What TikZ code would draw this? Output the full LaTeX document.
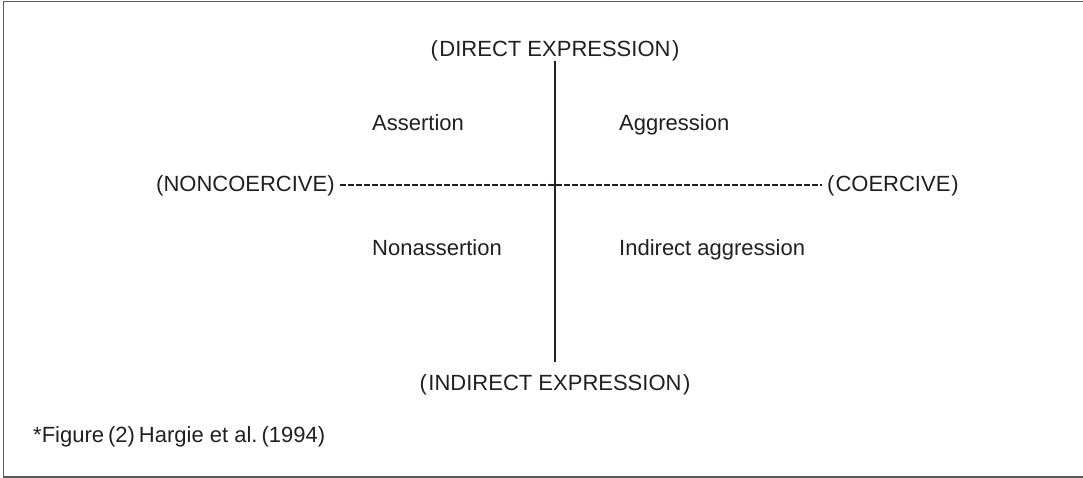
\documentclass[tikz,border=0pt]{standalone}
\usepackage{fontspec}
\setmainfont{Liberation Sans}
\definecolor{ink}{HTML}{231F20}
\definecolor{frame}{HTML}{5A5A5A}
\newcommand{\lpar}{(\kern1.5pt}
\newcommand{\rpar}{\kern1.5pt)}
\begin{document}
\begin{tikzpicture}[x=1pt,y=-1pt,
  lbl/.style={inner sep=0pt,anchor=base west,text=ink,font=\fontsize{22}{26}\selectfont},
  axis/.style={draw=ink,line width=1.1pt},
  dashaxis/.style={draw=ink,line width=1.1pt,dash pattern=on 5.5pt off 2.5pt}]
\useasboundingbox (0,0) rectangle (1083,478);
\fill[white] (0,0) rectangle (1083,478);
\draw[frame,line width=1.6pt] (1090,1.7) -- (3.5,1.7) -- (3.5,476.7) -- (1090,476.7);
\node[lbl,anchor=base] (direct) at (555,57) {\lpar DIRECT EXPRESSION\rpar};
\node[lbl,anchor=base] (indirect) at (555,390) {\lpar INDIRECT EXPRESSION\rpar};
\node[lbl] (nonco) at (156,192) {(NONCOERCIVE)};
\node[lbl] (coer) at (827,192) {(\kern1pt COERCIVE\kern1pt)};
\node[lbl] (assert) at (372,131) {Assertion};
\node[lbl] (aggr) at (619,131) {Aggression};
\node[lbl] (nonassert) at (372,255) {Nonassertion};
\node[lbl] (indaggr) at (619,255) {Indirect aggression};
\node[lbl] (foot) at (33,442) {*Figure\kern4pt(2)\kern4pt Hargie et al.\kern4pt(1994)};
\coordinate (vt) at (555,61);
\coordinate (vb) at (555,362);
\coordinate (hl) at (340,185);
\coordinate (hr) at (822,185);
\draw[axis] (vt) -- (vb);
\draw[dashaxis] (hl) -- (hr);
\end{tikzpicture}
\end{document}
